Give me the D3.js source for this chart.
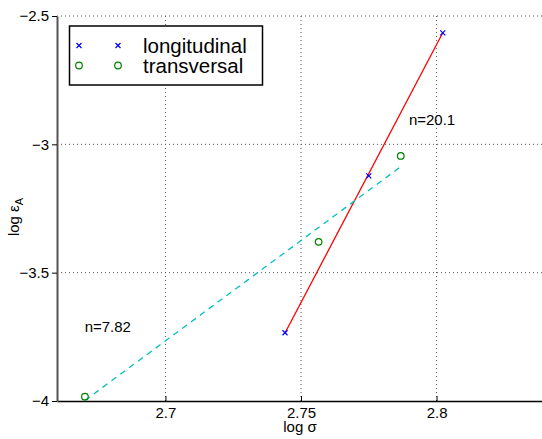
<!DOCTYPE html>
<html><head><meta charset="utf-8">
<script src="https://cdn.jsdelivr.net/npm/d3@7"></script>
<style>body{margin:0;background:#fff}svg{display:block;font-family:"Liberation Sans",Arial,sans-serif}</style>
</head><body><svg id="c" width="542" height="439"></svg>
<script>
const xTicks = [2.7, 2.75, 2.8];
const yTicks = [-4, -3.5, -3, -2.5];
const yTickLabels = ["\u22124", "\u22123.5", "\u22123", "\u22122.5"];
const longX = [2.7441, 2.7750, 2.8023];
const longY = [-3.734, -3.123, -2.566];
const transX = [2.6703, 2.7565, 2.7868];
const transY = [-3.983, -3.380, -3.045];
const fitLongX = [2.7441, 2.8023];
const fitLongY = [-3.735, -2.565];
const fitTransX = [2.6703, 2.7868];
const fitTransY = [-3.998, -3.087];
const legendLabels = ["longitudinal", "transversal"];
const annotations = [{t: "n=20.1", x: 2.7898, y: -2.925}, {t: "n=7.82", x: 2.6702, y: -3.73}];

const svg = d3.select("#c");
const L = 57, R = 545, T = 16, B = 401;
const x = d3.scaleLinear().domain([2.66, 2.84]).range([L, R]);
const y = d3.scaleLinear().domain([-4, -2.5]).range([B, T]);

// grid
const g = svg.append("g");
g.selectAll(".gx").data(xTicks).join("line")
  .attr("x1", d => x(d)).attr("x2", d => x(d)).attr("y1", T).attr("y2", B)
  .attr("stroke", "#555").attr("stroke-width", 1).attr("stroke-dasharray", "1,3");
g.selectAll(".gy").data(yTicks.filter(d => d > -4)).join("line")
  .attr("x1", L).attr("x2", 542).attr("y1", d => y(d)).attr("y2", d => y(d))
  .attr("stroke", "#555").attr("stroke-width", 1).attr("stroke-dasharray", "1,3");

// axes
const xa = svg.append("g").attr("transform", `translate(0,${B})`)
  .call(d3.axisBottom(x).tickValues(xTicks).tickSizeInner(-5).tickSizeOuter(0).tickPadding(6).tickFormat(d3.format("")));
xa.select(".domain").attr("stroke", "#000").attr("stroke-width", 1.5);
xa.selectAll("text").attr("font-size", 15).attr("fill", "#000").attr("font-family", "Liberation Sans, Arial, sans-serif");
const ya = svg.append("g").attr("transform", `translate(${L},0)`)
  .call(d3.axisLeft(y).tickValues(yTicks).tickSizeInner(5).tickSizeOuter(0).tickPadding(3).tickFormat((d, i) => yTickLabels[i]));
ya.select(".domain").attr("stroke", "#555").attr("stroke-width", 2);
ya.selectAll("text").attr("font-size", 15).attr("fill", "#000").attr("font-family", "Liberation Sans, Arial, sans-serif");

svg.append("text").attr("x", 300).attr("y", 432).attr("text-anchor", "middle").attr("font-size", 15).text("log \u03c3");
const yl = svg.append("text").attr("transform", `translate(19,217) rotate(-90)`).attr("text-anchor", "middle").attr("font-size", 15);
yl.append("tspan").text("log \u03b5");
yl.append("tspan").attr("font-size", 11).attr("dy", 4).text("A");

// fit lines
const line = d3.line().x(d => x(d[0])).y(d => y(d[1]));
svg.append("path").datum(d3.zip(fitLongX, fitLongY)).attr("d", line)
  .attr("fill", "none").attr("stroke", "#ff0000").attr("stroke-width", 1.3);
svg.append("path").datum(d3.zip(fitTransX, fitTransY)).attr("d", line)
  .attr("fill", "none").attr("stroke", "#00bfbf").attr("stroke-width", 1.3).attr("stroke-dasharray", "6,5");

// markers
function cross(sel, cx, cy, s) {
  sel.append("path").attr("d", `M${cx - s},${cy - s}L${cx + s},${cy + s}M${cx - s},${cy + s}L${cx + s},${cy - s}`)
    .attr("stroke", "#0000ff").attr("stroke-width", 1.2).attr("fill", "none");
}
d3.zip(longX, longY).forEach(d => cross(svg, x(d[0]), y(d[1]), 2.5));
svg.selectAll(".tc").data(d3.zip(transX, transY)).join("circle")
  .attr("cx", d => x(d[0])).attr("cy", d => y(d[1])).attr("r", 3.3)
  .attr("fill", "none").attr("stroke", "#008000").attr("stroke-width", 1.2);

// annotations
svg.selectAll(".an").data(annotations).join("text")
  .attr("x", d => x(d.x)).attr("y", d => y(d.y)).attr("font-size", 15).text(d => d.t);

// legend
svg.append("rect").attr("x", 69.5).attr("y", 26).attr("width", 193).attr("height", 59)
  .attr("fill", "#fff").attr("stroke", "#000").attr("stroke-width", 1.5);
const rows = [45.5, 65.5];
[79, 118].forEach(lx => {
  cross(svg, lx, rows[0], 2.5);
  svg.append("circle").attr("cx", lx).attr("cy", rows[1]).attr("r", 3.3)
    .attr("fill", "none").attr("stroke", "#008000").attr("stroke-width", 1.2);
});
svg.selectAll(".lt").data(legendLabels).join("text")
  .attr("x", 143).attr("y", (d, i) => rows[i] + 7).attr("font-size", 20.5).text(d => d);
</script></body></html>
